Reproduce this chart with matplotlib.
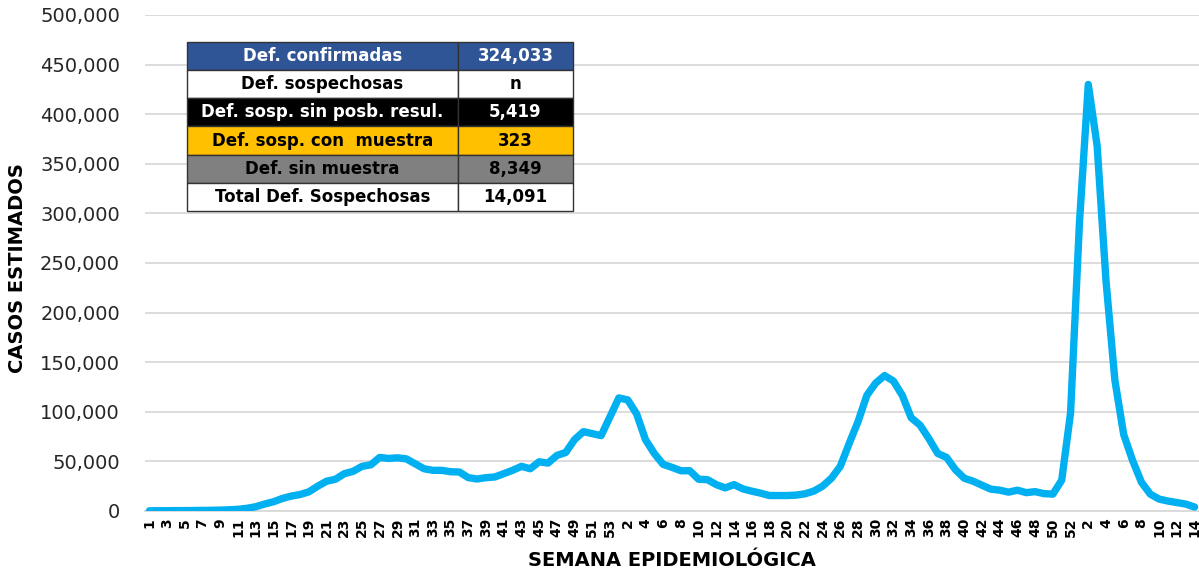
import numpy as np
import matplotlib.pyplot as plt

# casos estimados por semana epidemiologica (2020: 1-53, 2021: 1-52, 2022: 1-14)
cases_2020 = [200, 300, 300, 400, 400, 500, 600, 700, 900, 1200,
              1700, 2700, 4300, 7000, 9300, 12600, 15000, 16600, 19300, 25000,
              30000, 32000, 37600, 40000, 45000, 46600, 54000, 53000, 53600, 52600,
              47600, 42600, 41000, 41000, 39600, 39300, 33600, 32300, 33600, 34300,
              37600, 41000, 45000, 42600, 49600, 48300, 56000, 59000, 72000, 80000,
              78000, 76000, 95000]
cases_2021 = [114000, 112000, 98000, 72000, 58000, 47000, 44000, 40600, 40600, 32000,
              31600, 26600, 23300, 26600, 22300, 20000, 18000, 15600, 15600, 15600,
              16000, 17300, 20000, 25000, 33000, 45000, 68000, 90000, 116600, 129000,
              136500, 131000, 116600, 94000, 86600, 73000, 58000, 54000, 41600, 33000,
              30000, 26000, 22000, 21000, 19000, 21000, 18500, 19500, 17500, 17000,
              31000, 99000]
cases_2022 = [290000, 430000, 368000, 232000, 132000, 77000, 51000, 29000, 17000, 12000,
              10000, 8500, 7000, 4000]

weeks = list(range(1, 54)) + list(range(1, 53)) + list(range(1, 15))
cases = np.array(cases_2020 + cases_2021 + cases_2022)

# tabla de defunciones
table_labels = ["Def. confirmadas", "Def. sospechosas", "Def. sosp. sin posb. resul.",
                "Def. sosp. con  muestra", "Def. sin muestra", "Total Def. Sospechosas"]
table_values = ["324,033", "n", "5,419", "323", "8,349", "14,091"]
row_colors = ["#2F5597", "#FFFFFF", "#000000", "#FFC000", "#808080", "#FFFFFF"]
text_colors = ["white", "black", "white", "black", "black", "black"]

fig = plt.figure(figsize=(11.99, 5.73), dpi=100)
ax = fig.add_axes([145/1199, 62/573, 1054/1199, 496/573])

x = np.arange(len(cases))
ax.plot(x, cases, color="#00B0F0", lw=5.3, solid_joinstyle="round", solid_capstyle="round", zorder=3)

ax.set_ylim(0, 500000)
ax.set_xlim(-0.5, len(cases) - 0.5)
ax.set_yticks(np.arange(0, 500001, 50000))
ax.set_yticklabels([f"{v:,}" for v in range(0, 500001, 50000)], fontsize=14, color="#262626")
ax.set_xticks(x[::2])
ax.set_xticklabels([str(w) for w in weeks[::2]], rotation=90, fontsize=10, fontweight="bold")
ax.tick_params(axis="both", length=0)
ax.tick_params(axis="y", pad=18)
ax.tick_params(axis="x", pad=5)
ax.grid(axis="y", color="#D9D9D9", lw=1.3)
ax.set_axisbelow(True)
for s in ["top", "right", "left"]:
	ax.spines[s].set_visible(False)
ax.spines["bottom"].set_color("#D9D9D9")
ax.spines["bottom"].set_linewidth(1.3)

ax.set_ylabel("CASOS ESTIMADOS", fontsize=14, fontweight="bold", va="center")
ax.yaxis.set_label_coords((18-145)/1054, 0.49)
ax.set_xlabel("SEMANA EPIDEMIOLÓGICA", fontsize=14, fontweight="bold", va="center")
ax.xaxis.set_label_coords((672-145)/1054, (511-560)/496)

cell_text = [[l, v] for l, v in zip(table_labels, table_values)]
tb = ax.table(cellText=cell_text, colWidths=[271/386, 115/386], cellLoc="center",
              bbox=[(187-145)/1054, (511-211)/496, (573-187)/1054, (211-42)/496], zorder=5)
tb.auto_set_font_size(False)
for (r, c), cell in tb.get_celld().items():
	cell.set_facecolor(row_colors[r])
	cell.set_edgecolor("#333333")
	cell.set_linewidth(1)
	cell.get_text().set_color(text_colors[r])
	cell.get_text().set_fontweight("bold")
	cell.get_text().set_fontsize(12)

plt.savefig("out.png", dpi=100)
